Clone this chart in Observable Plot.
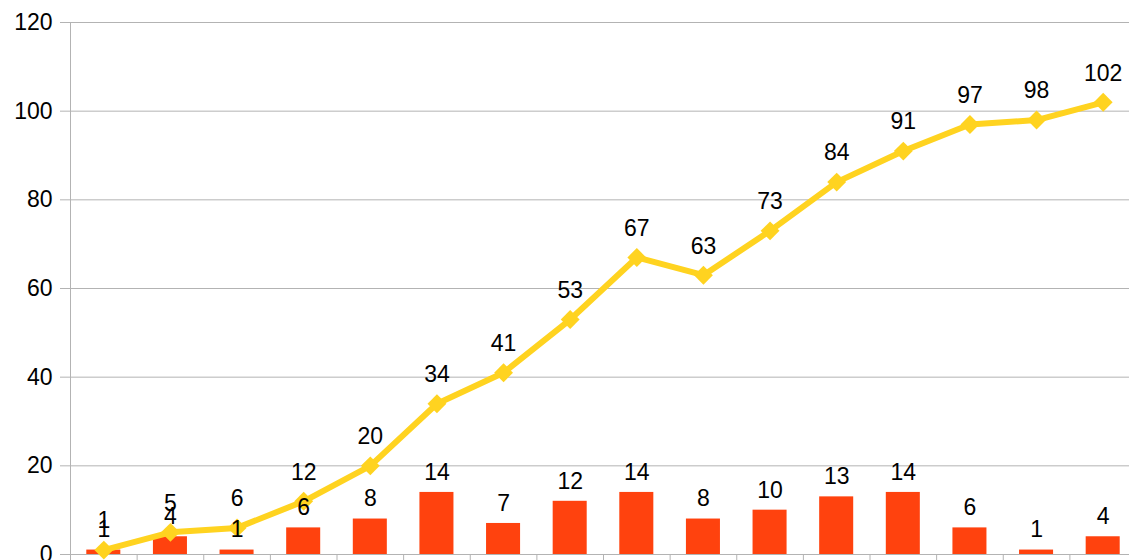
<!DOCTYPE html>
<html>
<head>
<meta charset="utf-8">
<script src="https://cdn.jsdelivr.net/npm/d3@7"></script>
<script src="https://cdn.jsdelivr.net/npm/@observablehq/plot@0.6"></script>
<style>
  html, body { margin: 0; padding: 0; background: #fff; overflow: hidden; }
  svg { display: block; }
</style>
</head>
<body>
<div id="chart"></div>
<script>
const categories = [1, 2, 3, 4, 5, 6, 7, 8, 9, 10, 11, 12, 13, 14, 15, 16];
const barValues = [1, 4, 1, 6, 8, 14, 7, 12, 14, 8, 10, 13, 14, 6, 1, 4];
const lineValues = [1, 5, 6, 12, 20, 34, 41, 53, 67, 63, 73, 84, 91, 97, 98, 102];
const yTicks = [0, 20, 40, 60, 80, 100, 120];

const data = categories.map((c, i) => ({ i, c, bar: barValues[i], line: lineValues[i] }));
const grid = "#b3b3b3";
const font = "Liberation Sans, Arial, sans-serif";

const chart = Plot.plot({
  width: 1129,
  height: 560,
  marginLeft: 70,
  marginRight: -7,
  marginTop: 22,
  marginBottom: 6,
  style: { fontFamily: font, fontSize: "23px", color: "#000", background: "#fff" },
  x: { type: "linear", domain: [0, categories.length], axis: null },
  y: { domain: [0, 120], axis: null },
  marks: [
    Plot.ruleY(yTicks, { stroke: grid, strokeWidth: 1, strokeOpacity: 1 }),
    Plot.axisY({ ticks: yTicks, tickSize: 10, stroke: grid, strokeOpacity: 1, tickPadding: 8, fontSize: 23, fill: "#000", label: null, tickFormat: d => d }),
    Plot.ruleX([0], { stroke: grid }),
    Plot.axisX({ ticks: d3.range(0, categories.length + 1), tickSize: 6, stroke: grid, strokeOpacity: 1, tickFormat: () => "", label: null }),
    Plot.rectY(data, { x1: d => d.i, x2: d => d.i + 1, y: "bar", fill: "#ff420e", insetLeft: 16.3, insetRight: 16.3 }),
    Plot.ruleY([0], { stroke: grid }),
    Plot.line(data, { x: d => d.i + 0.5, y: "line", stroke: "#ffd320", strokeWidth: 6, strokeLinejoin: "round" }),
    Plot.dot(data, { x: d => d.i + 0.5, y: "line", symbol: "diamond2", r: 8.5, fill: "#ffd320", stroke: "none" }),
    Plot.text(data, { x: d => d.i + 0.5, y: "bar", text: d => String(d.bar), dy: -20, fontSize: 23, fill: "#000" }),
    Plot.text(data, { x: d => d.i + 0.5, y: "line", text: d => String(d.line), dy: -29, fontSize: 23, fill: "#000" })
  ]
});
document.getElementById("chart").appendChild(chart);
</script>
</body>
</html>
